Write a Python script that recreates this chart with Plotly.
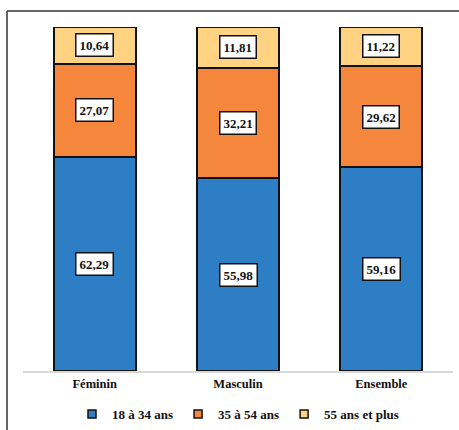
import plotly.graph_objects as go

categories = ["Féminin", "Masculin", "Ensemble"]
series_names = ["18 à 34 ans", "35 à 54 ans", "55 ans et plus"]
v_18_34 = [62.29, 55.98, 59.16]
v_35_54 = [27.07, 32.21, 29.62]
v_55p = [10.64, 11.81, 11.22]
colors = ["#2E7EC6", "#F5873D", "#FFD382"]

series = [v_18_34, v_35_54, v_55p]

FONT = "Liberation Serif, Times New Roman, serif"

fig = go.Figure()
for name, vals, col in zip(series_names, series, colors):
    fig.add_trace(go.Bar(
        x=categories, y=vals, name=name, showlegend=False,
        marker=dict(color=col, line=dict(color="#111111", width=2)),
        width=0.573,
    ))

# legend entries (small square swatches like the reference)
for name, col in zip(series_names, colors):
    fig.add_trace(go.Scatter(
        x=[None], y=[None], mode="markers", name="<b>" + name + "</b>",
        marker=dict(symbol="square", size=8, color=col,
                    line=dict(color="#111111", width=1.5)),
    ))

annotations = []
for i, cat in enumerate(categories):
    base = 0
    for vals in series:
        v = vals[i]
        annotations.append(dict(
            x=cat, y=base + v / 2, xref="x", yref="y",
            text="<b>" + f"{v:.2f}".replace(".", ",") + "</b>",
            showarrow=False, bgcolor="white", bordercolor="#111111",
            borderwidth=1.5, borderpad=3,
            font=dict(family=FONT, size=13, color="#111111"),
        ))
        base += v

W, H = 459, 430
ml, mr, mt, mb = 23, 6, 27, 59
pw, ph = W - ml - mr, H - mt - mb

def px_x(p):
    return (p - ml) / pw

def px_y(p):
    return (H - mb - p) / ph

shapes = [
    dict(type="line", xref="paper", yref="paper",
         x0=px_x(7), x1=px_x(470), y0=px_y(11), y1=px_y(11),
         line=dict(color="#333333", width=1.5)),
    dict(type="line", xref="paper", yref="paper",
         x0=px_x(7), x1=px_x(7), y0=px_y(11), y1=px_y(440),
         line=dict(color="#333333", width=1.5)),
]

fig.update_layout(
    barmode="stack",
    width=W, height=H,
    margin=dict(l=ml, r=mr, t=mt, b=mb, autoexpand=False),
    paper_bgcolor="white", plot_bgcolor="white",
    annotations=annotations, shapes=shapes,
    font=dict(family=FONT, color="#111111"),
    showlegend=True,
    legend=dict(orientation="h", x=0.5, xanchor="center", xref="paper",
                yref="container", y=(H - 414) / H, yanchor="middle",
                font=dict(family=FONT, size=13, color="#111111"),
                traceorder="normal", itemwidth=30,
                bgcolor="rgba(0,0,0,0)"),
    xaxis=dict(showline=True, linecolor="#D9D9D9", linewidth=1.5,
               tickfont=dict(family=FONT, size=12.5, color="#111111"),
               ticks="", showgrid=False,
               tickprefix="<b>", ticksuffix="</b>"),
    yaxis=dict(range=[0, 100], visible=False, showgrid=False),
)

fig.write_html("out.html", config={"displayModeBar": False},
               post_script="document.body.style.margin='0';document.body.style.overflow='hidden';")
